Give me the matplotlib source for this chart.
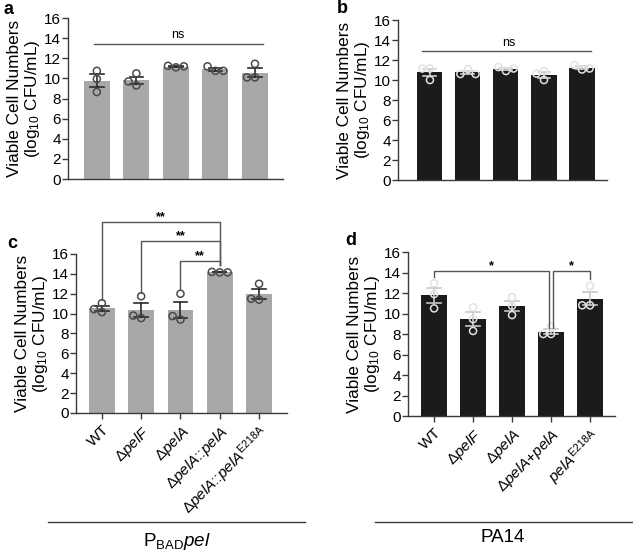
"""Viable cell numbers for pel strains: four bar panels with replicate points."""
import matplotlib

matplotlib.use("Agg")
import matplotlib.pyplot as plt
import numpy as np
from matplotlib.lines import Line2D

plt.rcParams["font.family"] = ["Liberation Sans", "DejaVu Sans"]
plt.rcParams["mathtext.fontset"] = "custom"
plt.rcParams["mathtext.rm"] = "Liberation Sans"
plt.rcParams["mathtext.it"] = "Liberation Sans:italic"
plt.rcParams["mathtext.bf"] = "Liberation Sans:bold"

# ---- data (log10 CFU/mL, three replicates per strain) ----
labels_c = ["WT", r"Δ$\it{pelF}$", r"Δ$\it{pelA}$", r"Δ$\it{pelA}$::$\it{pelA}$",
            r"Δ$\it{pelA}$::$\it{pelA}^{\rm E218A}$"]
labels_d = ["WT", r"Δ$\it{pelF}$", r"Δ$\it{pelA}$", r"Δ$\it{pelA}$+$\it{pelA}$",
            r"$\it{pelA}^{\rm E218A}$"]

reps_a = [[10.75, 9.95, 8.65], [10.5, 9.3, 9.7], [11.1, 11.25, 11.2],
          [10.75, 11.2, 10.75], [11.45, 10.1, 10.1]]
reps_b = [[11.15, 10.0, 11.15], [11.1, 10.6, 10.6], [10.9, 11.3, 11.15],
          [10.0, 10.9, 10.65], [11.05, 11.5, 11.15]]
reps_c = [[11.05, 10.15, 10.45], [11.75, 9.55, 9.8], [12.0, 9.4, 9.75],
          [14.15, 14.2, 14.15], [13.0, 11.4, 11.5]]
reps_d = [[12.95, 11.9, 10.5], [10.6, 9.45, 8.3], [11.6, 10.75, 9.85],
          [8.7, 8.0, 8.0], [12.7, 10.8, 10.8]]

GREY = "#a7a8aa"
BLACK = "#1c1a1b"
LINE = "#3a3a3a"
W, H = 633, 550


def swarm(vals, dx=0.2, dy=0.65):
    """Simple beeswarm: shift points sideways when they would overlap."""
    offs = []
    for v in vals:
        for cand in (0.0, -dx, dx, -2 * dx, 2 * dx):
            if all(abs(cand - o) >= dx * 0.9 or abs(v - vals[j]) >= dy
                   for j, o in enumerate(offs)):
                offs.append(cand)
                break
    return offs


def bar_panel(ax, reps, color, pt_edge, err_color, xlim, width_px):
    means = [np.mean(r) for r in reps]
    sems = [np.std(r, ddof=1) / np.sqrt(len(r)) for r in reps]
    x = np.arange(len(reps))
    ax.bar(x, means, width=0.66, color=color, zorder=1)
    for xi, m, s in zip(x, means, sems):
        ax.plot([xi, xi], [m - s, m + s], color=err_color, lw=1.2, zorder=2)
        ax.plot([xi - 0.17, xi + 0.17], [m + s] * 2, color=err_color, lw=1.2, zorder=2)
        ax.plot([xi - 0.17, xi + 0.17], [m - s] * 2, color=err_color, lw=1.2, zorder=2)
    for xi, r in zip(x, reps):
        offs = swarm(r)
        ax.scatter(xi + np.array(offs), r, s=26, facecolors="none",
                   edgecolors=pt_edge, linewidths=1.1, zorder=3)
    ax.set_xlim(*xlim)
    ax.set_ylim(0, 16)
    ax.set_yticks(range(0, 17, 2))
    ax.spines[["top", "right"]].set_visible(False)
    for sp in ("left", "bottom"):
        ax.spines[sp].set_color(LINE)
        ax.spines[sp].set_linewidth(1.0)
    ax.tick_params(axis="y", labelsize=11, length=4, color=LINE, width=1, pad=1)
    ax.set_ylabel("Viable Cell Numbers\n(log$_{10}$ CFU/mL)", fontsize=12.4,
                  linespacing=1.1)
    ax.yaxis.set_label_coords(-26 / width_px, 0.5)


def bracket(ax, x1, x2, y, y1, y2, text, tx, ty, size=9):
    ax.plot([x1, x1, x2, x2], [y1, y, y, y2], color="#555555", lw=1.0,
            clip_on=False, zorder=4)
    ax.text(tx, ty, text, ha="center", va="center", fontsize=size,
            fontweight="bold", clip_on=False)


fig = plt.figure(figsize=(6.33, 5.5), dpi=100)
ax_a = fig.add_axes([0.1074, 0.6745, 0.3397, 0.2927])
ax_b = fig.add_axes([0.6288, 0.6727, 0.3302, 0.2909])
ax_c = fig.add_axes([0.1200, 0.2491, 0.3333, 0.2891])
ax_d = fig.add_axes([0.6445, 0.2436, 0.3270, 0.2982])

bar_panel(ax_a, reps_a, GREY, "#4a4a4a", "#2a2a2a", (-0.73, 4.71), 0.3397 * W)
bar_panel(ax_b, reps_b, BLACK, "#e2e2e2", "#d0d0d0", (-0.84, 4.66), 0.3302 * W)
bar_panel(ax_c, reps_c, GREY, "#4a4a4a", "#2a2a2a", (-0.66, 4.71), 0.3333 * W)
bar_panel(ax_d, reps_d, BLACK, "#e2e2e2", "#c8c8c8", (-0.67, 4.64), 0.3270 * W)

for ax in (ax_a, ax_b):
    ax.set_xticks([])

for ax, labels in ((ax_c, labels_c), (ax_d, labels_d)):
    ax.set_xticks(range(5))
    ax.set_xticklabels(labels, rotation=45, ha="right", rotation_mode="anchor",
                       fontsize=11)
    ax.tick_params(axis="x", length=4, color=LINE, width=1, pad=3)

# ns lines
ax_a.plot([-0.08, 4.2], [13.4, 13.4], color="#555555", lw=1.0)
ax_a.text(2.05, 14.35, "ns", ha="center", va="center", fontsize=9)
ax_b.plot([-0.22, 4.23], [12.9, 12.9], color="#555555", lw=1.0)
ax_b.text(2.08, 13.75, "ns", ha="center", va="center", fontsize=9)

# significance brackets
bracket(ax_c, 0, 3, 19.25, 11.4, 14.9, "**", 1.5, 19.75)
bracket(ax_c, 1, 3, 17.3, 12.1, 14.9, "**", 2.0, 17.8)
bracket(ax_c, 2, 3, 15.3, 12.5, 14.9, "**", 2.5, 15.8)
bracket(ax_d, 0, 2.96, 14.1, 13.6, 8.6, "*", 1.46, 14.65)
bracket(ax_d, 3.04, 4, 14.1, 8.6, 13.4, "*", 3.53, 14.65)

# panel letters
for txt, x, y in (("a", 0.005, 0.982), ("b", 0.532, 0.985), ("c", 0.012, 0.558),
                  ("d", 0.545, 0.563)):
    fig.text(x, y, txt, fontsize=13, fontweight="bold", va="center")

# group lines and labels
fig.add_artist(Line2D([48 / W, 305 / W], [1 - 522 / H] * 2, color=LINE, lw=1.0))
fig.add_artist(Line2D([375 / W, 1.0], [1 - 522 / H] * 2, color=LINE, lw=1.0))
fig.text(177 / W, 1 - 541 / H, r"P$_{\rm BAD}$$\it{pel}$", ha="center",
         va="center", fontsize=13.5)
fig.text(503 / W, 1 - 537 / H, "PA14", ha="center", va="center", fontsize=13.5)

fig.savefig("out.png", dpi=100)
